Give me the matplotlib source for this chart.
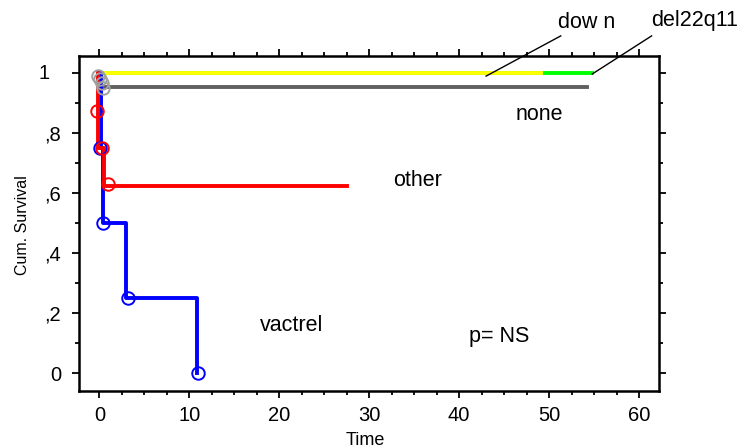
import matplotlib
matplotlib.use('Agg')
import matplotlib.pyplot as plt
from matplotlib import font_manager
from matplotlib.ticker import FixedLocator, MultipleLocator

plt.rcParams['font.family'] = ['Liberation Sans', 'DejaVu Sans']

# Kaplan-Meier step curves (time, cumulative survival)
vac_t = [0.0, 0.15, 0.35, 3.0, 10.9]
vac_s = [1.0, 0.75, 0.5, 0.25, 0.0]
vac_cx = [0.1, 0.45, 3.2, 11.0]
vac_cy = [0.75, 0.5, 0.25, 0.0]

oth_t = [-0.2, -0.2, -0.2, 0.5, 27.5]
oth_s = [1.0, 0.875, 0.75, 0.625, 0.625]
oth_cx = [-0.3, 0.3, 1.0]
oth_cy = [0.875, 0.75, 0.63]

none_t = [0.0, 0.2, 54.2]
none_s = [1.0, 0.955, 0.955]
none_cx = [-0.2, 0.1, 0.3, 0.45]
none_cy = [0.99, 0.98, 0.967, 0.952]

down_t = [0.0, 49.1]
down_s = [1.0, 1.0]

del_t = [0.0, 54.8]
del_s = [1.0, 1.0]

xticks = [0, 10, 20, 30, 40, 50, 60]
yticks = [0, 0.2, 0.4, 0.6, 0.8, 1.0]
ylabels = ['0', ',2', ',4', ',6', ',8', '1']

fig = plt.figure(figsize=(7.4, 4.48), dpi=100)
ax = fig.add_axes([0.1068, 0.1272, 0.7842, 0.7478])

lw = 2.8
ax.plot(del_t, del_s, color='#00ff00', lw=lw, drawstyle='steps-post')
ax.plot(down_t, down_s, color='#ffff00', lw=lw, drawstyle='steps-post')
ax.plot(none_t, none_s, color='#606060', lw=lw, drawstyle='steps-post')
ax.plot(vac_t, vac_s, color='#0000ff', lw=lw, drawstyle='steps-post')
ax.plot(oth_t, oth_s, color='#ff0000', lw=lw, drawstyle='steps-post')

ms = 9
ax.plot(vac_cx, vac_cy, 'o', mfc='none', mec='#0000ff', mew=1.4, ms=ms)
ax.plot(oth_cx, oth_cy, 'o', mfc='none', mec='#ff0000', mew=1.4, ms=ms)
ax.plot(none_cx, none_cy, 'o', mfc='none', mec='#a0a0a0', mew=1.4, ms=ms)

ax.set_xlim(-2.26, 62.26)
ax.set_ylim(-0.059, 1.058)

ax.xaxis.set_major_locator(FixedLocator(xticks))
ax.xaxis.set_minor_locator(MultipleLocator(2.5))
ax.yaxis.set_major_locator(FixedLocator(yticks))
# the "1" label sits further left in the original, drawn separately below
ax.set_yticklabels(ylabels[:-1] + [''])
ax.yaxis.set_minor_locator(MultipleLocator(0.1))

ax.tick_params(which='both', direction='out', top=True, right=True,
               width=1.3, labelsize=14.5)
ax.tick_params(which='major', length=5)
ax.tick_params(which='minor', length=3)
ax.tick_params(axis='x', pad=6)
ax.tick_params(axis='y', pad=8)
for sp in ax.spines.values():
    sp.set_linewidth(1.8)

ax.annotate(ylabels[-1], xy=(0, yticks[-1]), xycoords=('axes fraction', 'data'),
            xytext=(-21.5, 0), textcoords='offset points',
            ha='right', va='center', fontsize=14.5, annotation_clip=False)

names = {f.name for f in font_manager.fontManager.ttflist}
if 'Liberation Sans Narrow' in names:
    ax.set_ylabel('Cum. Survival', fontsize=13.5, family='Liberation Sans Narrow')
else:
    ax.set_ylabel('Cum. Survival', fontsize=11.5)
ax.yaxis.set_label_coords(-0.0844, 0.496)
ax.set_xlabel('Time', fontsize=13)
ax.xaxis.set_label_coords(0.493, -0.122)

fs = 15.5
ax.text(48.9, 0.864, 'none', fontsize=fs, ha='center', va='center')
ax.text(35.4, 0.644, 'other', fontsize=fs, ha='center', va='center')
ax.text(21.4, 0.161, 'vactrel', fontsize=fs, ha='center', va='center')
ax.text(44.5, 0.122, 'p= NS', fontsize=fs, ha='center', va='center')

ax.plot([43.0, 51.3], [0.991, 1.125], color='black', lw=1.0, clip_on=False)
ax.plot([54.8, 61.4], [0.998, 1.125], color='black', lw=1.0, clip_on=False)
ax.text(54.2, 1.171, 'dow n', fontsize=fs, ha='center', va='center')
ax.text(66.2, 1.178, 'del22q11', fontsize=fs, ha='center', va='center')

fig.savefig('out.png', dpi=100)
